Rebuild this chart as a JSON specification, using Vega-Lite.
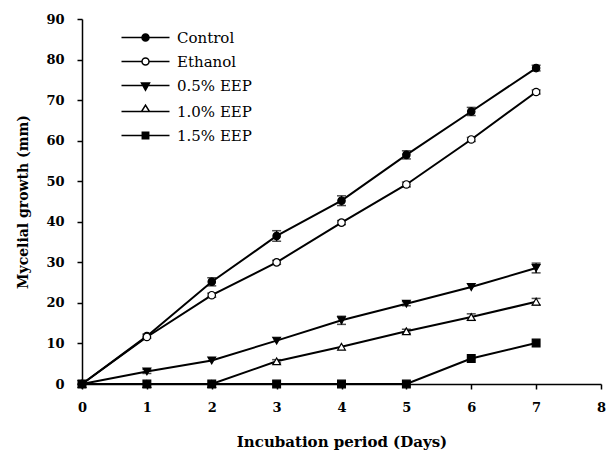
{
  "$schema": "https://vega.github.io/schema/vega-lite/v6.json",
  "width": 519,
  "height": 365,
  "autosize": "none",
  "padding": {"left": 82, "top": 19, "right": 9, "bottom": 75},
  "config": {
    "view": {"stroke": null},
    "font": "DejaVu Serif",
    "axis": {"grid": false, "domainColor": "black", "domainWidth": 1.5, "tickColor": "black", "tickWidth": 1.5, "labelFont": "DejaVu Serif", "labelFontWeight": "bold", "labelFontSize": 13, "labelColor": "black", "titleFont": "DejaVu Serif", "titleFontWeight": "bold", "titleFontSize": 14, "titleColor": "black"}
  },
  "datasets": {
    "pts": [
      {"series": "Control", "day": 0, "value": 0},
      {"series": "Control", "day": 1, "value": 11.8, "lo": 11.3, "hi": 12.3},
      {"series": "Control", "day": 2, "value": 25.2, "lo": 24.2, "hi": 26.2},
      {"series": "Control", "day": 3, "value": 36.5, "lo": 35.2, "hi": 37.8},
      {"series": "Control", "day": 4, "value": 45.2, "lo": 44, "hi": 46.4},
      {"series": "Control", "day": 5, "value": 56.5, "lo": 55.5, "hi": 57.5},
      {"series": "Control", "day": 6, "value": 67.2, "lo": 66.2, "hi": 68.2},
      {"series": "Control", "day": 7, "value": 77.9, "lo": 77.2, "hi": 78.6},
      {"series": "Ethanol", "day": 0, "value": 0},
      {"series": "Ethanol", "day": 1, "value": 11.6},
      {"series": "Ethanol", "day": 2, "value": 21.9, "lo": 21.4, "hi": 22.4},
      {"series": "Ethanol", "day": 3, "value": 30, "lo": 29.5, "hi": 30.5},
      {"series": "Ethanol", "day": 4, "value": 39.8, "lo": 39.3, "hi": 40.3},
      {"series": "Ethanol", "day": 5, "value": 49.2, "lo": 48.6, "hi": 49.8},
      {"series": "Ethanol", "day": 6, "value": 60.3, "lo": 59.8, "hi": 60.8},
      {"series": "Ethanol", "day": 7, "value": 72, "lo": 71.5, "hi": 72.5},
      {"series": "0.5% EEP", "day": 0, "value": 0},
      {"series": "0.5% EEP", "day": 1, "value": 3.1, "lo": 2.6, "hi": 3.6},
      {"series": "0.5% EEP", "day": 2, "value": 5.8},
      {"series": "0.5% EEP", "day": 3, "value": 10.7},
      {"series": "0.5% EEP", "day": 4, "value": 15.7, "lo": 14.7, "hi": 16.7},
      {"series": "0.5% EEP", "day": 5, "value": 19.8, "lo": 19.3, "hi": 20.3},
      {"series": "0.5% EEP", "day": 6, "value": 23.9},
      {"series": "0.5% EEP", "day": 7, "value": 28.6, "lo": 27.4, "hi": 29.8},
      {"series": "1.0% EEP", "day": 0, "value": 0},
      {"series": "1.0% EEP", "day": 1, "value": 0},
      {"series": "1.0% EEP", "day": 2, "value": 0},
      {"series": "1.0% EEP", "day": 3, "value": 5.6, "lo": 5.2, "hi": 6},
      {"series": "1.0% EEP", "day": 4, "value": 9.2},
      {"series": "1.0% EEP", "day": 5, "value": 13, "lo": 12.5, "hi": 13.5},
      {"series": "1.0% EEP", "day": 6, "value": 16.5, "lo": 15.7, "hi": 17.3},
      {"series": "1.0% EEP", "day": 7, "value": 20.3, "lo": 19.5, "hi": 21.1},
      {"series": "1.5% EEP", "day": 0, "value": 0},
      {"series": "1.5% EEP", "day": 1, "value": 0},
      {"series": "1.5% EEP", "day": 2, "value": 0},
      {"series": "1.5% EEP", "day": 3, "value": 0},
      {"series": "1.5% EEP", "day": 4, "value": 0},
      {"series": "1.5% EEP", "day": 5, "value": 0},
      {"series": "1.5% EEP", "day": 6, "value": 6.3},
      {"series": "1.5% EEP", "day": 7, "value": 10.1}
    ]
  },
  "data": {"name": "pts"},
  "encoding": {
    "x": {"field": "day", "type": "quantitative", "title": "Incubation period (Days)",
      "scale": {"domain": [0, 8], "nice": false, "zero": false},
      "axis": {"values": [0, 1, 2, 3, 4, 5, 6, 7, 8], "format": "d", "tickSize": 5, "labelPadding": 12, "titlePadding": 20, "titleFontSize": 15, "labelFlush": false}},
    "y": {"field": "value", "type": "quantitative", "title": "Mycelial growth (mm)",
      "scale": {"domain": [0, 90], "nice": false},
      "axis": {"values": [0, 10, 20, 30, 40, 50, 60, 70, 80, 90], "tickSize": 5, "labelPadding": 13, "titlePadding": 15}}
  },
  "layer": [
    {
      "mark": {"type": "line", "color": "black", "strokeWidth": 2},
      "encoding": {"detail": {"field": "series", "type": "nominal"}}
    },
    {
      "transform": [{"filter": "datum.lo != null"}],
      "mark": {"type": "rule", "color": "black", "strokeWidth": 1.5},
      "encoding": {"y": {"field": "lo", "type": "quantitative"}, "y2": {"field": "hi"}}
    },
    {
      "transform": [{"filter": "datum.lo != null"}],
      "mark": {"type": "tick", "orient": "horizontal", "color": "black", "thickness": 1.5, "size": 9},
      "encoding": {"y": {"field": "lo", "type": "quantitative"}}
    },
    {
      "transform": [{"filter": "datum.lo != null"}],
      "mark": {"type": "tick", "orient": "horizontal", "color": "black", "thickness": 1.5, "size": 9},
      "encoding": {"y": {"field": "hi", "type": "quantitative"}}
    },
    {
      "transform": [{"filter": "datum.series == 'Control'"}],
      "mark": {"type": "point", "shape": "circle", "fill": "black", "stroke": "black", "strokeWidth": 1.2, "opacity": 1, "size": 55}
    },
    {
      "transform": [{"filter": "datum.series == 'Ethanol'"}],
      "mark": {"type": "point", "shape": "circle", "fill": "white", "stroke": "black", "strokeWidth": 1.2, "opacity": 1, "size": 55}
    },
    {
      "transform": [{"filter": "datum.series == '0.5% EEP'"}],
      "mark": {"type": "point", "shape": "triangle-down", "fill": "black", "stroke": "black", "strokeWidth": 1.2, "opacity": 1, "size": 60}
    },
    {
      "transform": [{"filter": "datum.series == '1.0% EEP'"}],
      "mark": {"type": "point", "shape": "triangle-up", "fill": "white", "stroke": "black", "strokeWidth": 1.2, "opacity": 1, "size": 60}
    },
    {
      "transform": [{"filter": "datum.series == '1.5% EEP'"}],
      "mark": {"type": "point", "shape": "square", "fill": "black", "stroke": "black", "strokeWidth": 1.2, "opacity": 1, "size": 60}
    },
    {
      "transform": [{"filter": "false"}],
      "mark": {"type": "point", "stroke": "black", "strokeWidth": 1.5, "opacity": 1, "size": 64},
      "encoding": {
        "shape": {"field": "series", "type": "nominal",
          "scale": {"domain": ["Control", "Ethanol", "0.5% EEP", "1.0% EEP", "1.5% EEP"],
            "range": [
              "M-6,0H6M0.875,0A0.875,0.875,0,1,1,-0.875,0A0.875,0.875,0,1,1,0.875,0Z",
              "M-6,0H-0.875M0.875,0H6M0.875,0A0.875,0.875,0,1,1,-0.875,0A0.875,0.875,0,1,1,0.875,0Z",
              "M-6,0H6M-1,-0.6L1,-0.6L0,1.2Z",
              "M-6,0H6M-1,0L1,0L0,-1.6Z",
              "M-6,0H6M-0.8,-0.8H0.8V0.8H-0.8Z"
            ]},
          "legend": {"title": null, "orient": "none", "legendX": 56, "legendY": 11, "symbolSize": 64, "labelFont": "DejaVu Serif", "labelFontSize": 15, "labelColor": "black", "labelOffset": 24, "rowPadding": 8,
            "encode": {"symbols": {"update": {"stroke": {"value": "black"}, "opacity": {"value": 1}, "strokeWidth": {"signal": "datum.value == 'Ethanol' || datum.value == '1.0% EEP' ? 1.2 : 2"}}}}}
        },
        "fill": {"field": "series", "type": "nominal",
          "scale": {"domain": ["Control", "Ethanol", "0.5% EEP", "1.0% EEP", "1.5% EEP"], "range": ["black", "white", "black", "white", "black"]},
          "legend": {"title": null, "orient": "none", "legendX": 56, "legendY": 11, "symbolSize": 64, "labelFont": "DejaVu Serif", "labelFontSize": 15, "labelColor": "black", "labelOffset": 24, "rowPadding": 8,
            "encode": {"symbols": {"update": {"stroke": {"value": "black"}, "opacity": {"value": 1}, "strokeWidth": {"signal": "datum.value == 'Ethanol' || datum.value == '1.0% EEP' ? 1.2 : 2"}}}}}
        }
      }
    }
  ]
}
